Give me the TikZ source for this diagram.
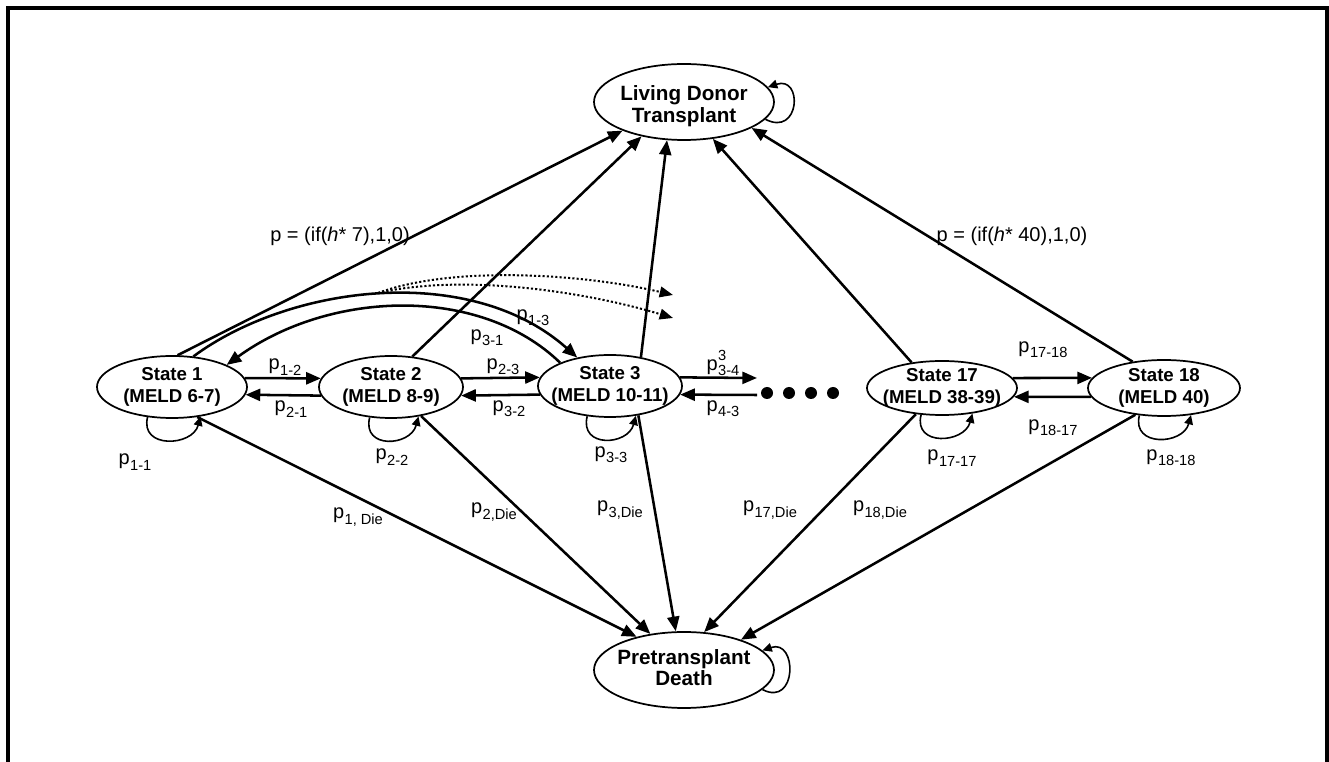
\documentclass[tikz,border=0pt]{standalone}
\usepackage{fontspec}
\setmainfont{Liberation Sans}
\usetikzlibrary{shapes.geometric,arrows.meta,calc}
\newcommand{\pl}[1]{p\kern0.3pt\raisebox{-0.5ex}{\fontsize{11}{12}\selectfont #1}}
\newcommand{\plsup}[2]{p\kern0.3pt\raisebox{-0.5ex}{\fontsize{11}{12}\selectfont\rlap{\raisebox{1.9ex}{#1}}#2}}
\begin{document}
\begin{tikzpicture}[x=0.75pt,y=-0.75pt,
  arr/.style={line width=1.9pt,-{Triangle[length=11pt,width=9pt]}},
  lp/.style={line width=1.2pt,-{Triangle[length=7pt,width=6.5pt]}},
  dcur/.style={line width=1.5pt,dash pattern=on 1.6pt off 1.6pt,-{Triangle[length=10pt,width=8pt]}},
  st/.style={ellipse,draw,line width=1.3pt,inner sep=0pt},
  stt/.style={align=center,font=\bfseries\fontsize{14}{16.5}\selectfont},
  bigt/.style={align=center,font=\bfseries\fontsize{15.5}{16}\selectfont},
  lab/.style={font=\fontsize{15}{18}\selectfont,inner sep=1pt},
  dotn/.style={circle,fill,inner sep=0pt,minimum size=9pt}]
\useasboundingbox (0,0) rectangle (1329,762);
\draw[line width=3pt] (7.5,762) -- (7.5,8) -- (1327,8) -- (1327,762);

% main nodes
\node[st,minimum width=135pt,minimum height=57pt,label={[bigt,yshift=-3pt]center:{Living Donor\\Transplant}}] (ldt) at (684,102) {};
\node[st,minimum width=135pt,minimum height=57pt,label={[bigt,yshift=2pt]center:{Pretransplant\\Death}}] (pd) at (684,670) {};
\node[st,minimum width=112.5pt,minimum height=46.5pt,label={[stt]center:{State 1\\(MELD 6-7)}}] (s1) at (172,387) {};
\node[st,minimum width=108pt,minimum height=46.5pt,label={[stt]center:{State 2\\(MELD 8-9)}}] (s2) at (391,387) {};
\node[st,minimum width=108pt,minimum height=46.5pt,label={[stt]center:{State 3\\(MELD 10-11)}}] (s3) at (610,386) {};
\node[st,minimum width=112.5pt,minimum height=40.5pt,label={[stt]center:{State 17\\(MELD 38-39)}}] (s17) at (942,388) {};
\node[st,minimum width=114pt,minimum height=42pt,label={[stt]center:{State 18\\(MELD 40)}}] (s18) at (1164,388) {};

\node[dotn] (dA) at (767,393) {};
\node[dotn] (dB) at (789,393) {};
\node[dotn] (dC) at (811,393) {};
\node[dotn] (dD) at (833,393) {};
\coordinate (e1) at (757,378);
\coordinate (e2) at (757,395);
\coordinate (q0) at (378,293);
\coordinate (q1) at (673,295);
\coordinate (q2) at (673,318);

% to LDT
\draw[arr] (s1.80) -- (ldt.205);
\draw[arr] (s2.55) -- (ldt.219);
\draw[arr] (s3.43) -- (ldt.246);
\draw[arr] (s17.140) -- (ldt.308);
\draw[arr] (s18.140) -- (ldt.339);
% to PD
\draw[arr] (s1.310) -- (pd.145);
\draw[arr] (s2.316) -- (pd.133);
\draw[arr] (s3.314) -- (pd.102);
\draw[arr] (s17.225) -- (pd.62);
\draw[arr] (s18.223) -- (pd.28);

% horizontal
\draw[arr] (s1.7) -- (s2.173);
\draw[arr] (s2.187) -- (s1.354);
\draw[arr] (s2.7) -- (s3.173);
\draw[arr] (s3.187) -- (s2.353);
\draw[arr] (s3.7) -- (e1);
\draw[arr] (e2) -- (s3.353);
\draw[arr] (s17.8) -- (s18.172);
\draw[arr] (s18.187) -- (s17.353);

% curves
\draw[arr] (s1.55) .. controls (290,285) and (470,262) .. (s3.139);
\draw[arr] (s3.155) .. controls (480,285) and (330,290) .. (s1.22);
\draw[dcur] (q0) .. controls (450,266) and (580,273) .. (q1);
\draw[dcur] (q0) .. controls (460,274) and (580,290) .. (q2);

% self loops
\draw[lp] (s1.231) .. controls +(-8,32) and +(-8,30) .. (s1.314);
\draw[lp] (s2.235) .. controls +(-8,32) and +(-8,30) .. (s2.313);
\draw[lp] (s3.233) .. controls +(-8,32) and +(-8,30) .. (s3.311);
\draw[lp] (s17.232) .. controls +(-8,32) and +(-8,30) .. (s17.320);
\draw[lp] (s18.228) .. controls +(-8,32) and +(-8,30) .. (s18.315);
\draw[lp] (ldt.348) .. controls +(35,18) and +(35,-12) .. (ldt.10);
\draw[lp] (pd.346) .. controls +(35,18) and +(35,-12) .. (pd.14);

% labels
\node[lab] (l1) at (340,236) {p = (if(\textit{h}* 7),1,0)};
\node[lab] (l2) at (1012,236) {p = (if(\textit{h}* 40),1,0)};
\node[lab] (l13) at (533,318) {\pl{1-3}};
\node[lab] (l31) at (487,338) {\pl{3-1}};
\node[lab] (l12) at (285,367) {\pl{1-2}};
\node[lab] (l21) at (291,409) {\pl{2-1}};
\node[lab] (l23) at (503,367) {\pl{2-3}};
\node[lab] (l32) at (509,409) {\pl{3-2}};
\node[lab] (l34) at (723,363) {\plsup{3}{3-4}};
\node[lab] (l43) at (723,409) {\pl{4-3}};
\node[lab] (l1718) at (1043,350) {\pl{17-18}};
\node[lab] (l1817) at (1053,428) {\pl{18-17}};
\node[lab] (l11) at (135,462) {\pl{1-1}};
\node[lab] (l22) at (392,457) {\pl{2-2}};
\node[lab] (l33) at (611,455) {\pl{3-3}};
\node[lab] (l1717) at (952,458) {\pl{17-17}};
\node[lab] (l1818) at (1171,458) {\pl{18-18}};
\node[lab] (d1) at (358,517) {\pl{1, Die}};
\node[lab] (d2) at (494,512) {\pl{2,Die}};
\node[lab] (d3) at (620,510) {\pl{3,Die}};
\node[lab] (d17) at (770,510) {\pl{17,Die}};
\node[lab] (d18) at (880,510) {\pl{18,Die}};
\end{tikzpicture}
\end{document}
